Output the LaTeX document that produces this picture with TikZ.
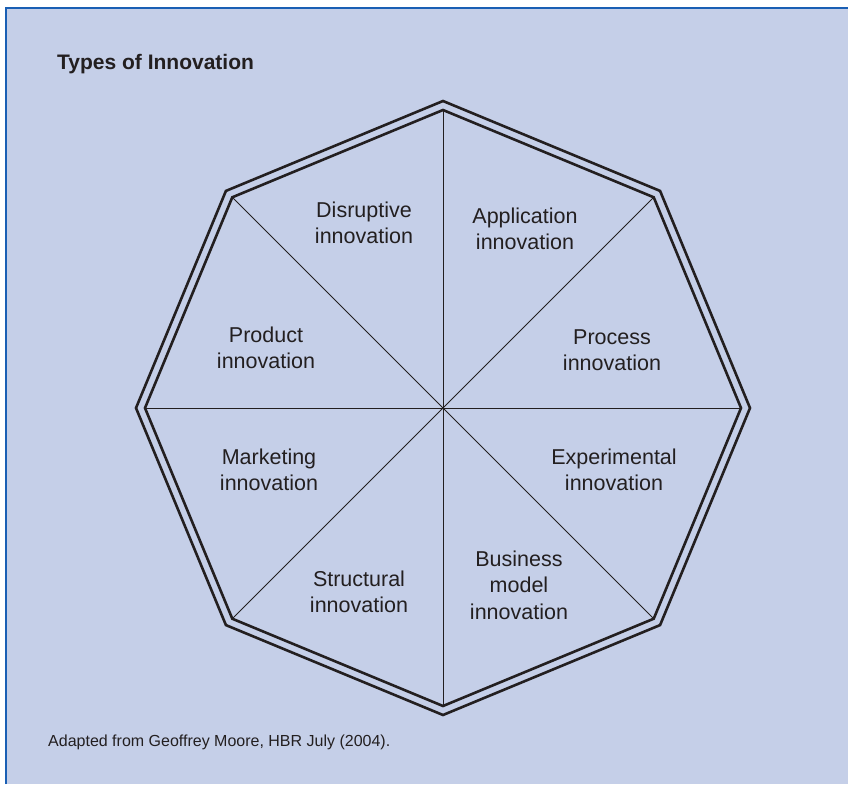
\documentclass[tikz,border=0pt]{standalone}
\usepackage{fontspec}
\setmainfont{Liberation Sans}
\definecolor{bgfill}{HTML}{C5CFE8}
\definecolor{frameblue}{HTML}{1A5FB4}
\definecolor{inkdark}{HTML}{231F20}
\begin{document}
\begin{tikzpicture}[x=1pt,y=-1pt,
  lbl/.style={align=center,font=\fontsize{21.5}{26.5}\selectfont,text=inkdark,inner sep=0pt},
  octline/.style={draw=inkdark,line width=2.6pt,line join=miter},
  spoke/.style={draw=inkdark,line width=1pt}]
\useasboundingbox (0,0) rectangle (848,784);
\fill[bgfill] (6,8) rectangle (848,784);
\draw[frameblue,line width=2.6pt] (6,784) -- (6,8) -- (848,8);
\coordinate (c) at (443,408);
\foreach \i in {0,...,7}{
  \coordinate (o\i) at ([shift={(c)}]\i*45:307);
  \coordinate (n\i) at ([shift={(c)}]\i*45:298);
}
\draw[octline] (o0)--(o1)--(o2)--(o3)--(o4)--(o5)--(o6)--(o7)--cycle;
\draw[octline] (n0)--(n1)--(n2)--(n3)--(n4)--(n5)--(n6)--(n7)--cycle;
\foreach \i in {0,...,7}{ \draw[spoke] (c) -- (n\i); }
\node[anchor=base west,font=\fontsize{21}{25}\selectfont\bfseries,text=inkdark,inner sep=0pt] (title) at (57,70) {Types of Innovation};
\node[lbl] (disr) at (364,223) {Disruptive\\innovation};
\node[lbl] (appl) at (525,229) {Application\\innovation};
\node[lbl] (prod) at (266,348) {Product\\innovation};
\node[lbl] (proc) at (612,350) {Process\\innovation};
\node[lbl] (mark) at (269,470) {Marketing\\innovation};
\node[lbl] (expe) at (614,470) {Experimental\\innovation};
\node[lbl] (stru) at (359,592) {Structural\\innovation};
\node[lbl] (busi) at (519,585) {Business\\model\\innovation};
\node[anchor=base west,font=\fontsize{16}{19}\selectfont,text=inkdark,inner sep=0pt] (src) at (48,746) {Adapted from Geoffrey Moore, HBR July (2004).};
\end{tikzpicture}
\end{document}
